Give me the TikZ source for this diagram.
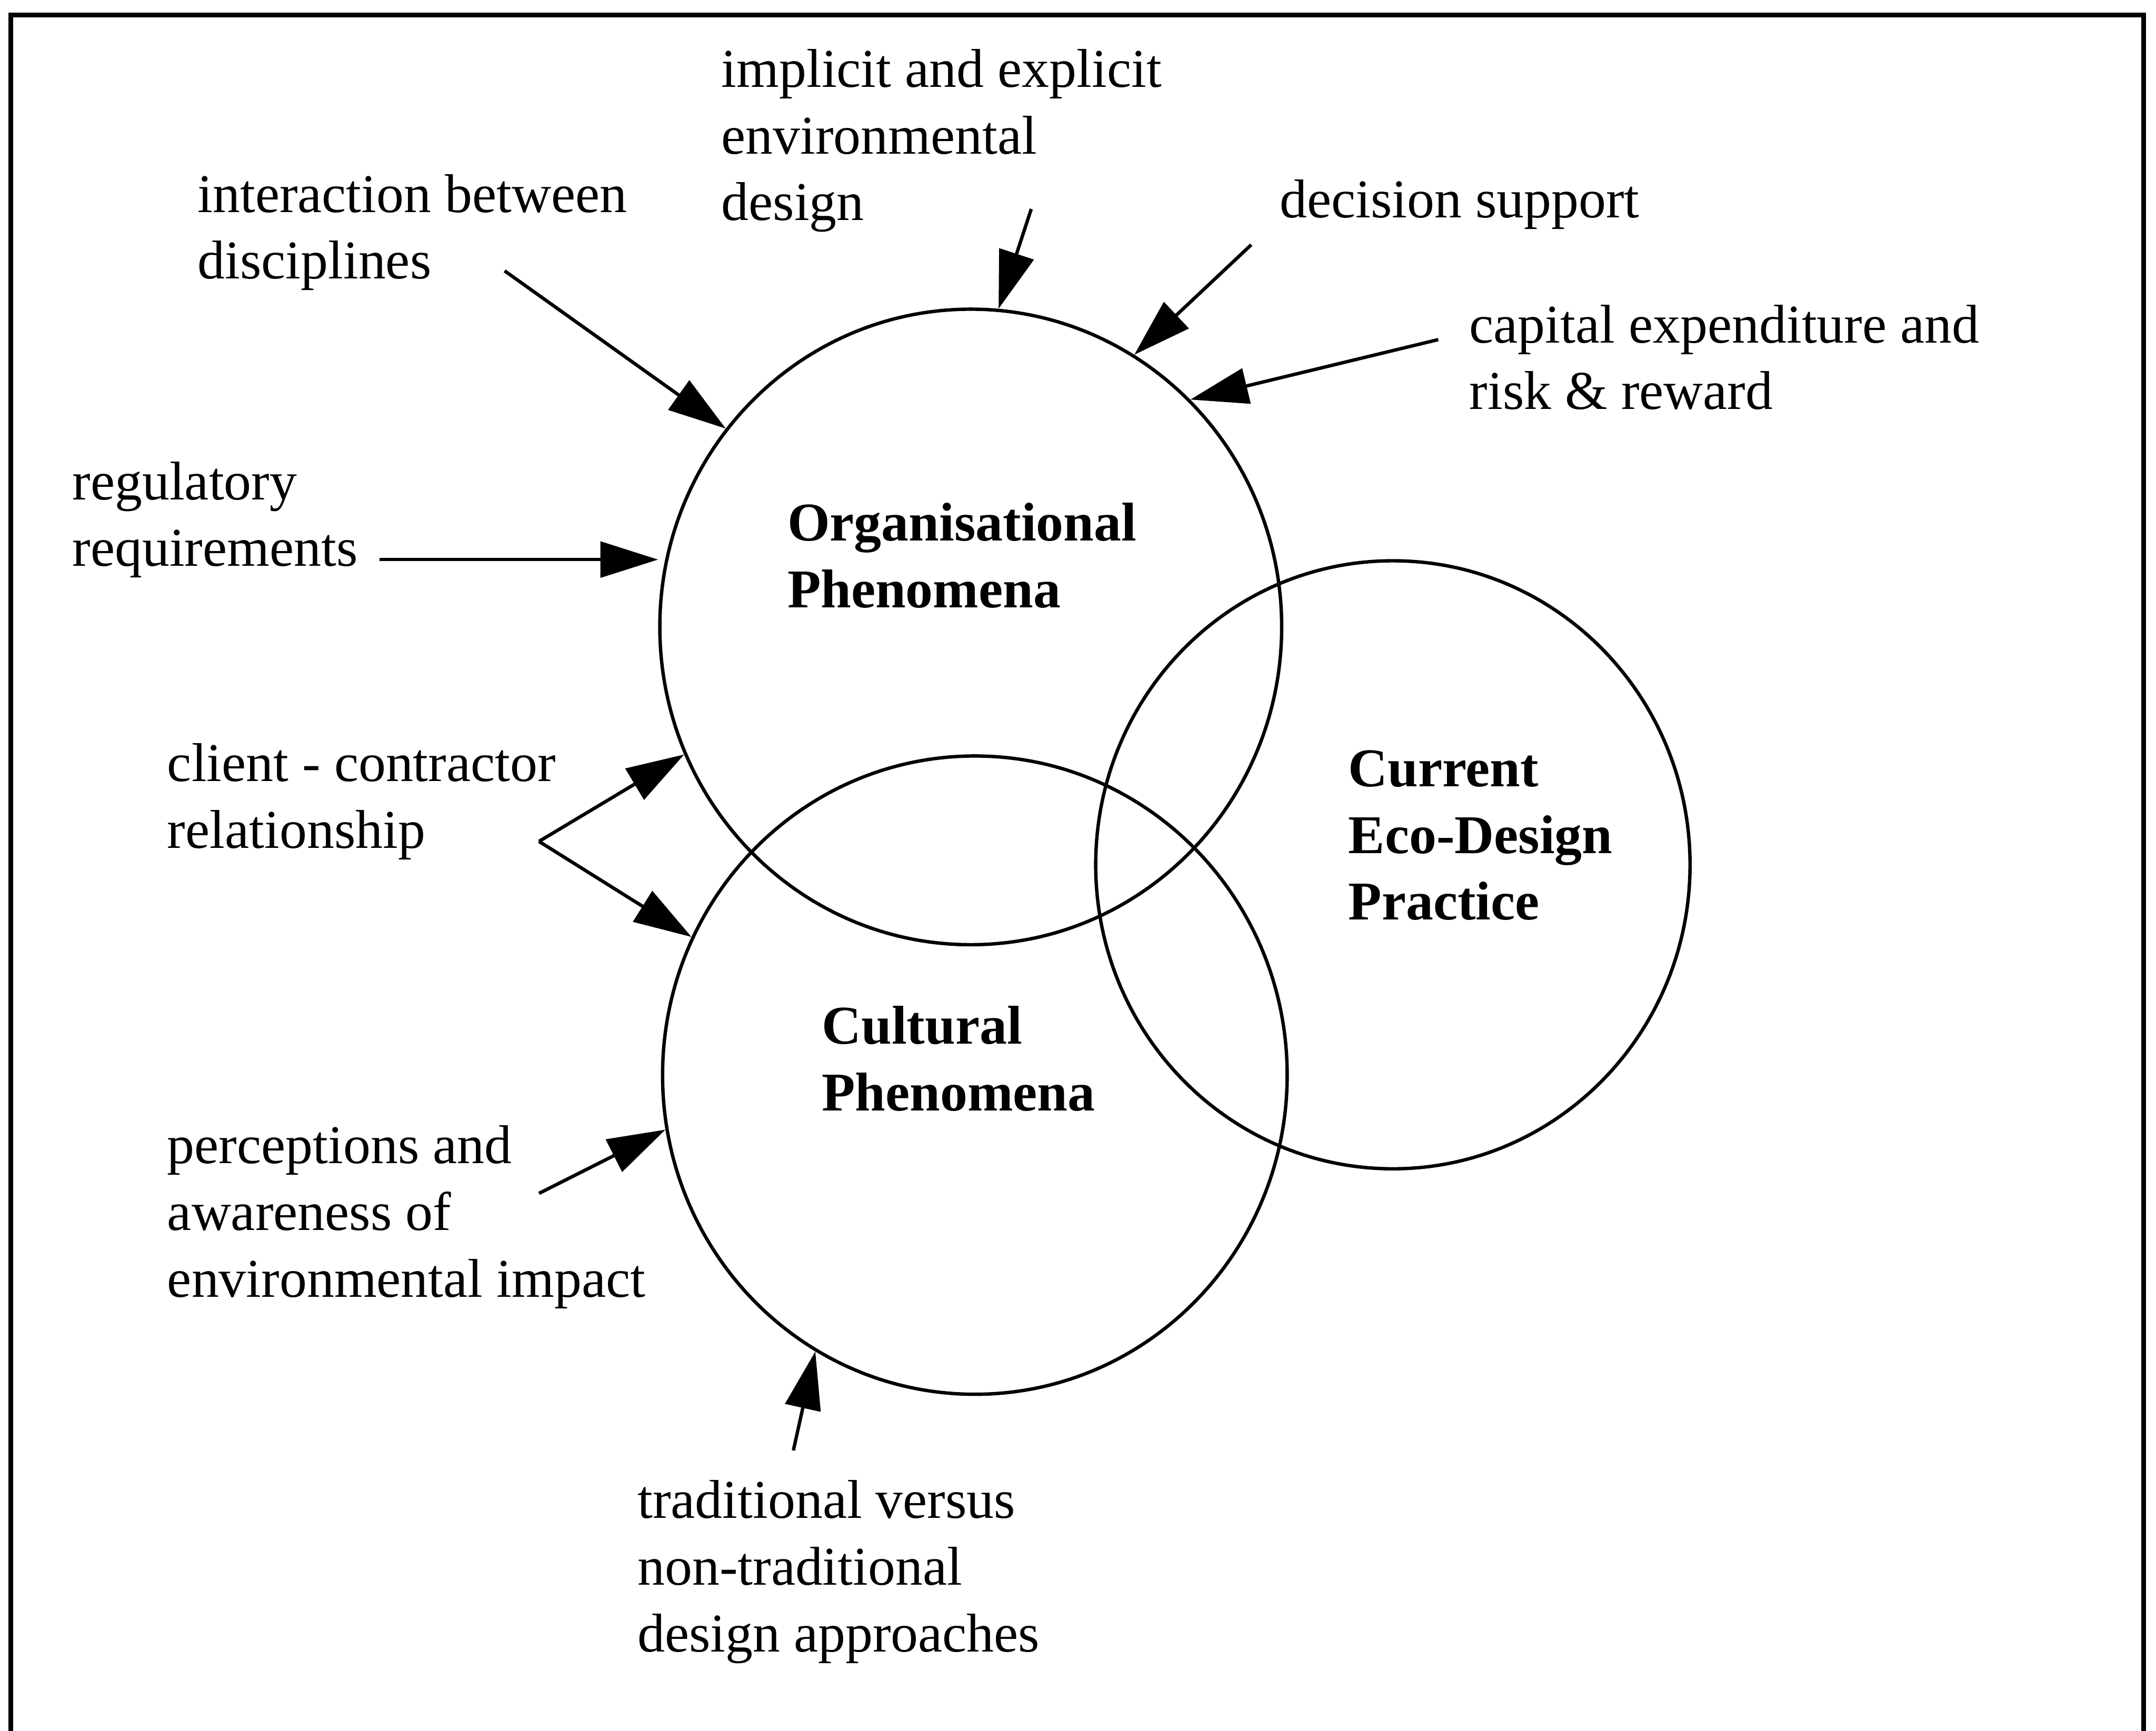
\documentclass[tikz,border=0pt]{standalone}
\usepackage{fontspec}
\setmainfont{Liberation Serif}
\usetikzlibrary{arrows.meta,shapes.geometric}

\begin{document}
\begin{tikzpicture}[x=0.01cm,y=-0.01cm,
  ring/.style={draw,ellipse,line width=0.7pt,inner sep=0pt},
  lbl/.style={anchor=north west,inner sep=0pt,align=left,font=\fontsize{11.3}{13.8}\selectfont},
  head/.style={lbl,font=\fontsize{11.3}{13.8}\selectfont\bfseries},
  pointer/.style={line width=0.7pt,-{Triangle[length=4.2mm,width=2.6mm]}}]
\useasboundingbox (0,0) rectangle (1568,1259);
\draw[line width=1pt] (8,1259) -- (8,11) -- (1559,11) -- (1559,1259);

% the three fields
\node[ring,minimum width=4.52cm,minimum height=4.62cm] (orgph) at (706,456) {};
\node[ring,minimum width=4.54cm,minimum height=4.64cm] (cultph) at (709,782) {};
\node[ring,minimum width=4.32cm,minimum height=4.42cm] (ecoprac) at (1013,629) {};
\node[head] (orgtxt) at (572,365) {Organisational\\Phenomena};
\node[head] (culttxt) at (597,731) {Cultural\\Phenomena};
\node[head] (ecotxt) at (980,545) {Current\\Eco-Design\\Practice};

% influences
\node[lbl] (implicit) at (524,35) {implicit and explicit\\environmental\\design};
\node[lbl] (interact) at (143,126) {interaction between\\disciplines};
\node[lbl] (decision) at (930,130) {decision support};
\node[lbl] (capital) at (1068,221) {capital expenditure and\\risk \& reward};
\node[lbl] (regul) at (52,335) {regulatory\\requirements};
\node[lbl] (client) at (121,540) {client - contractor\\relationship};
\node[lbl] (percept) at (121,818) {perceptions and\\awareness of\\environmental impact};
\node[lbl] (tradit) at (463,1076) {traditional versus\\non-traditional\\design approaches};

\coordinate (implicitend) at (750,152);
\coordinate (interactend) at (367,197);
\coordinate (decisionend) at (910,178);
\coordinate (capitalend) at (1046,247);
\coordinate (regulend) at (276,407);
\coordinate (clientend) at (392,612);
\coordinate (perceptend) at (392,868);
\coordinate (traditend) at (577,1055);

\draw[pointer] (implicitend) -- (orgph.85);
\draw[pointer] (interactend) -- (orgph.141);
\draw[pointer] (decisionend) -- (orgph.59);
\draw[pointer] (capitalend) -- (orgph.46);
\draw[pointer] (regulend) -- (regulend -| orgph.west);
\draw[pointer] (clientend) -- (orgph.204);
\draw[pointer] (clientend) -- (cultph.154);
\draw[pointer] (perceptend) -- (cultph.190);
\draw[pointer] (traditend) -- (cultph.240);
\end{tikzpicture}
\end{document}
